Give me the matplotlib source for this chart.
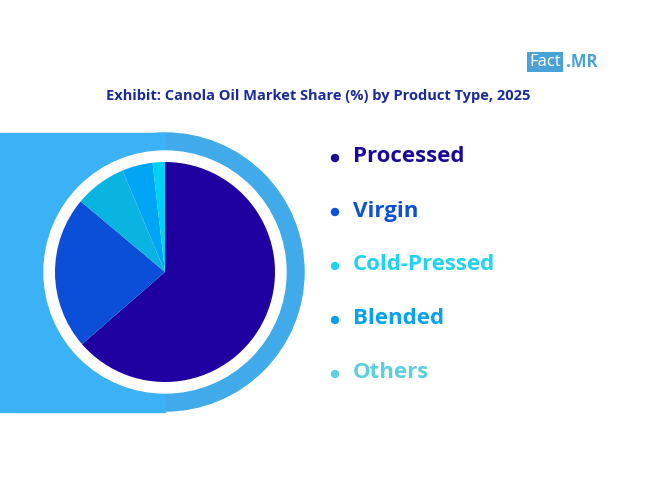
import matplotlib.pyplot as plt
from matplotlib.patches import Circle, Rectangle

labels = ["Processed", "Virgin", "Cold-Pressed", "Blended", "Others"]
shares = [63.6, 22.5, 7.6, 4.5, 1.8]
slice_colors = ["#1f00a0", "#0b4fd9", "#0ab4e0", "#00a6f5", "#00d2f5"]
text_colors = ["#1a0a9a", "#0c50d8", "#22d3ee", "#0aa0f0", "#5cd0dc"]

W, H = 650, 488
fig = plt.figure(figsize=(6.5, 4.88), dpi=100)
bg = fig.add_axes([0, 0, 1, 1])
bg.set_xlim(0, W)
bg.set_ylim(H, 0)
bg.axis("off")

# background band with rounded right end
cx, cy = 165, 272
bg.add_patch(Circle((cx, cy), 139, color="#40aaea", zorder=1))
bg.add_patch(Rectangle((0, 133), cx, 279, color="#3bb2f5", zorder=1))
bg.add_patch(Circle((cx, cy), 121, color="white", zorder=2))

# pie in its own axes
r = 110
pax = fig.add_axes([(cx - r) / W, 1 - (cy + r) / H, 2 * r / W, 2 * r / H])
pax.pie(shares, colors=slice_colors, startangle=90, counterclock=False,
        wedgeprops=dict(linewidth=0))
pax.set_xlim(-1, 1)
pax.set_ylim(-1, 1)
pax.set_aspect("auto")

# logo
bg.text(529, 62, "Fact", fontsize=12, color="white", va="center", ha="left",
        family="Open Sans",
        bbox=dict(boxstyle="square,pad=0.12", facecolor="#4aa3d8", edgecolor="none"))
bg.text(566, 62, ".MR", fontsize=12, color="#4aa3d8", va="center", ha="left",
        family="Open Sans", fontweight="bold")

bg.text(318, 96, "Exhibit: Canola Oil Market Share (%) by Product Type, 2025",
        fontsize=10.5, color="#1a2a9a", fontweight="bold", ha="center", va="center",
        family="Open Sans")

for i, (lab, col) in enumerate(zip(labels, text_colors)):
    y = 157 + i * 54
    bg.add_patch(Circle((335, y + 1), 3.5, color=col, zorder=3))
    bg.text(353, y, lab, fontsize=16, color=col, fontweight="bold",
            va="center", ha="left", family="Open Sans")

fig.savefig("out.png", dpi=100)
